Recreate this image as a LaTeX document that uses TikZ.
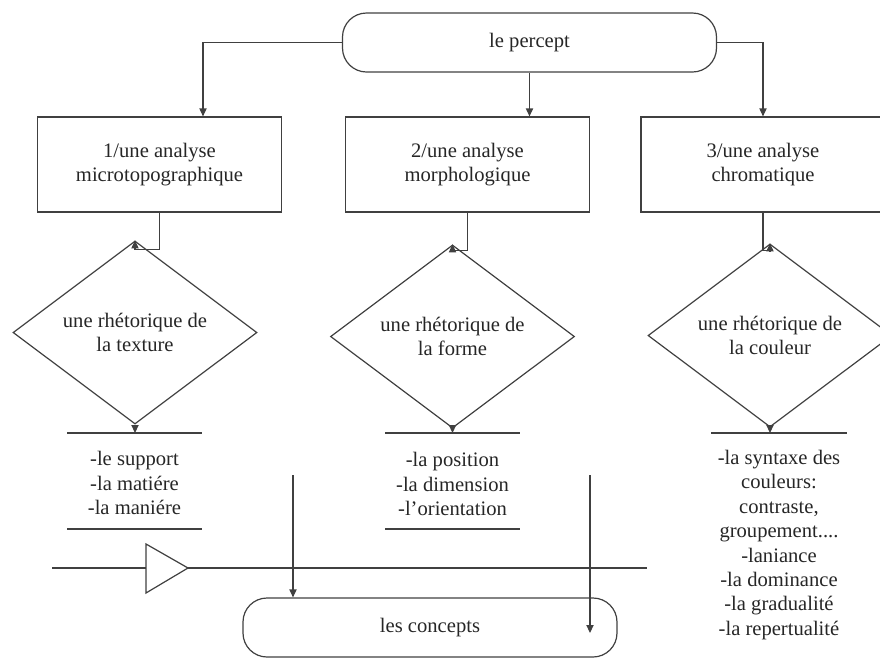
\documentclass[tikz,border=0pt]{standalone}
\usepackage{fontspec}
\setmainfont{Liberation Serif}
\usetikzlibrary{calc, arrows.meta, shapes.geometric}

\begin{document}
\begin{tikzpicture}[x=0.5pt, y=-0.5pt,
    every node/.style={font=\fontsize{10.3}{12.2}\selectfont, text=black!85},
    wire/.style={draw=black!75, line width=0.6pt},
    arr/.style={wire, -{Triangle[length=4pt, width=3.6pt]}},
    box/.style={wire, rectangle, minimum width=122pt, minimum height=47.5pt, align=center},
    terminal/.style={wire, rectangle, rounded corners=12pt, minimum width=187pt, minimum height=29.5pt},
    decision/.style={wire, diamond, inner sep=0pt, minimum width=122pt, minimum height=74.5pt, align=center},
    items/.style={align=center}]
    \useasboundingbox (0,0) rectangle (880,671);
    % Percept
    \node[terminal] (percept) at (529.5,42.5) {le percept};
    % Analyses
    \node[box] (b1) at (159.5,164.5) {1/une analyse\\microtopographique};
    \node[box] (b2) at (467.5,164.5) {2/une analyse\\morphologique};
    \node[box] (b3) at (763,164.5) {3/une analyse\\chromatique};
    \draw[arr] (percept.west) -| ($(b1.north)+(43.5,0)$);
    \draw[arr] (percept.south) -- (percept.south |- b2.north);
    \draw[arr] (percept.east) -| (b3.north);
    % Rhetorics
    \node[decision] (d1) at (135,332.5) {une rhétorique de\\la texture};
    \node[decision] (d2) at (452.5,336.5) {une rhétorique de\\la forme};
    \node[decision] (d3) at (770,335.5) {une rhétorique de\\la couleur};
    \draw[arr] (b1.south) -- ++(0,37) -| (d1.north);
    \draw[arr] (b2.south) -- ++(0,38) -| (d2.north);
    \draw[arr] (b3.south) -- ++(0,38) -| (d3.north);
    % Separators
    \coordinate (s1a) at (67,433);  \coordinate (s1b) at (202,433);
    \coordinate (s2a) at (385,433); \coordinate (s2b) at (520,433);
    \coordinate (s3a) at (711,433); \coordinate (s3b) at (847,433);
    \coordinate (s1c) at (67,529);  \coordinate (s1d) at (202,529);
    \coordinate (s2c) at (385,529); \coordinate (s2d) at (520,529);
    \draw[wire] (s1a) -- (s1b);
    \draw[wire] (s2a) -- (s2b);
    \draw[wire] (s3a) -- (s3b);
    \draw[wire] (s1c) -- (s1d);
    \draw[wire] (s2c) -- (s2d);
    \draw[arr] (d1.south) -- (d1.south |- s1a);
    \draw[arr] (d2.south) -- (d2.south |- s2a);
    \draw[arr] (d3.south) -- (d3.south |- s3a);
    % Lists
    \node[items] (t1) at (134.5,483) {-le support\\-la matiére\\-la maniére};
    \node[items] (t2) at (452.5,484) {-la position\\-la dimension\\-l'orientation};
    \node[items] (t3) at (779,545) {-la syntaxe des\\couleurs:\\contraste,\\groupement....\\-laniance\\-la dominance\\-la gradualité\\-la repertualité};
    % Axis with triangle
    \coordinate (ha) at (52,568); \coordinate (hb) at (647,568);
    \draw[wire] (ha) -- (hb);
    \draw[wire, fill=white] (146,544) -- (188,568) -- (146,593) -- cycle;
    % Concepts
    \node[terminal] (concepts) at (430,627.5) {les concepts};
    \coordinate (va) at (293,475); \coordinate (vb) at (590,475); \coordinate (vbe) at (590,633);
    \draw[arr] (va) -- (va |- concepts.north);
    \draw[arr] (vb) -- (vbe);
\end{tikzpicture}
\end{document}
